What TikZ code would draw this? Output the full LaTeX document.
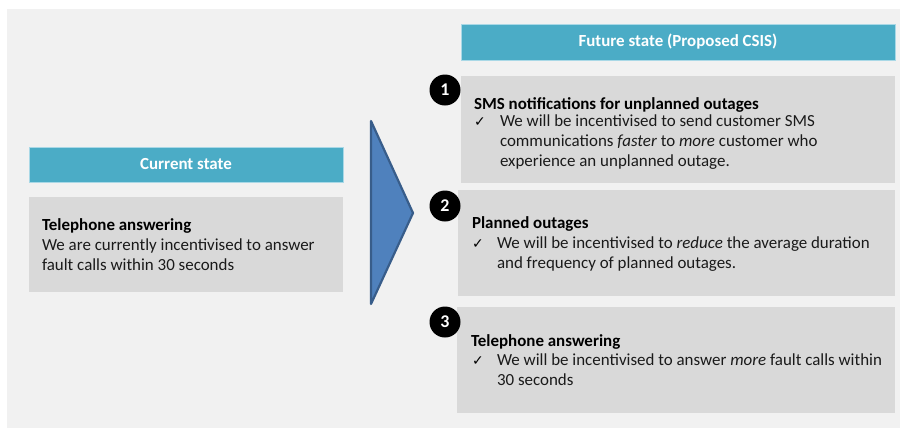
\documentclass[tikz,border=0pt]{standalone}
\usepackage{fontspec}
\setmainfont{Carlito}
\newfontfamily\symfont{DejaVu Sans}
\definecolor{panelgrey}{HTML}{F1F1F1}
\definecolor{boxgrey}{HTML}{D9D9D9}
\definecolor{headteal}{HTML}{4BACC6}
\definecolor{headedge}{HTML}{A9D8E6}
\definecolor{arrowfill}{HTML}{4F81BD}
\definecolor{arrowedge}{HTML}{385D8A}
\definecolor{textgrey}{HTML}{1A1A1A}
\begin{document}
\begin{tikzpicture}[x=1bp,y=-1bp,
  every node/.style={inner sep=0pt, outer sep=0pt},
  box/.style={fill=boxgrey, anchor=north west},
  headbox/.style={fill=headteal, draw=headedge, line width=0.6bp, anchor=north west,
    text=white, font=\fontsize{17}{20}\selectfont\bfseries},
  numcirc/.style={circle, fill=black, minimum size=31bp, text=white,
    font=\fontsize{18}{20}\selectfont\bfseries},
  heading/.style={anchor=base west, text=black, font=\fontsize{17}{20}\selectfont\bfseries},
  body/.style={anchor=base west, align=left, text=textgrey, font=\fontsize{17}{20}\selectfont},
  tick/.style={anchor=base west, text=black, font=\fontsize{14}{20}\selectfont\symfont}
]
\useasboundingbox (0,0) rectangle (900,428);
\fill[white] (0,0) rectangle (900,428);
\fill[panelgrey] (7,9) rectangle (900,428);

% current state
\node[headbox, minimum width=314bp, minimum height=35bp] (curhead) at (29,147) {Current state};
\node[box, minimum width=314bp, minimum height=95bp] (curbox) at (29,197) {};
\node[heading] (curh) at (42,230) {Telephone answering};
\node[body] (curt) at (42,270) {We are currently incentivised to answer\\fault calls within 30 seconds};

% arrow
\coordinate (atop) at (371,121);
\coordinate (abot) at (371,304);
\coordinate (atip) at (413,213);
\draw[fill=arrowfill, draw=arrowedge, line width=2.2bp, line join=round] (atop) -- (atip) -- (abot) -- cycle;

% future state
\node[headbox, minimum width=434bp, minimum height=36bp] (futhead) at (461,24) {Future state (Proposed CSIS)};

\node[box, minimum width=434bp, minimum height=107bp] (box1) at (461,76) {};
\node[box, minimum width=437bp, minimum height=106bp] (box2) at (458,190) {};
\node[box, minimum width=438bp, minimum height=106bp] (box3) at (457,307) {};

\node[numcirc] (n1) at (445,90) {1};
\node[numcirc] (n2) at (445,206) {2};
\node[numcirc] (n3) at (445,322) {3};

\node[heading] (h1) at (474,109) {SMS notifications for unplanned outages};
\node[tick] (t1) at (474,126) {✓};
\node[body] (b1) at (500,166) {We will be incentivised to send customer SMS\\communications \textit{faster} to \textit{more} customer who\\experience an unplanned outage.};

\node[heading] (h2) at (472,228) {Planned outages};
\node[tick] (t2) at (472,248) {✓};
\node[body] (b2) at (497,268) {We will be incentivised to \textit{reduce} the average duration\\and frequency of planned outages.};

\node[heading] (h3) at (471,346) {Telephone answering};
\node[tick] (t3) at (472,365) {✓};
\node[body] (b3) at (497,385) {We will be incentivised to answer \textit{more} fault calls within\\30 seconds};
\end{tikzpicture}
\end{document}
